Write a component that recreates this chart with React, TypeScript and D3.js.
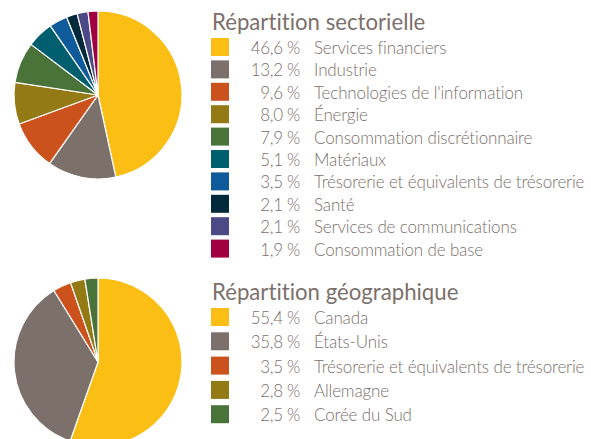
import React from "react";
import * as d3 from "d3";

const sectorLabels = [
  "Services financiers",
  "Industrie",
  "Technologies de l'information",
  "Énergie",
  "Consommation discrétionnaire",
  "Matériaux",
  "Trésorerie et équivalents de trésorerie",
  "Santé",
  "Services de communications",
  "Consommation de base",
];
const sectorValues = [46.6, 13.2, 9.6, 8.0, 7.9, 5.1, 3.5, 2.1, 2.1, 1.9];
const sectorColors = [
  "#FBBE14", "#7C706B", "#CC521D", "#947A14", "#4A733A",
  "#005F6E", "#0E5A9B", "#04293A", "#4C4A86", "#A0003F",
];

const geoLabels = ["Canada", "États-Unis", "Trésorerie et équivalents de trésorerie", "Allemagne", "Corée du Sud"];
const geoValues = [55.4, 35.8, 3.5, 2.8, 2.5];
const geoColors = ["#FBBE14", "#7C706B", "#CC521D", "#947A14", "#4A733A"];

const TEXT = "#7B706B";
const FONT = "Lato, 'Open Sans', sans-serif";

const fmt = (v: number) => v.toFixed(1).replace(".", ",") + " %";

function Pie({ cx, cy, r, values, colors }: { cx: number; cy: number; r: number; values: number[]; colors: string[] }) {
  const arcs = d3.pie<number>().sort(null).value((d) => d)(values);
  const arcGen = d3.arc<d3.PieArcDatum<number>>().innerRadius(0).outerRadius(r);
  return (
    <g transform={`translate(${cx},${cy})`}>
      {arcs.map((a, i) => (
        <path key={i} d={arcGen(a) || ""} fill={colors[i]} stroke="#fff" strokeWidth={1.2} strokeLinejoin="round" />
      ))}
    </g>
  );
}

function Legend({ x, titleY, rowY, step, title, labels, values, colors }: any) {
  return (
    <g fontFamily={FONT} fill={TEXT} style={{ fontVariantLigatures: "none" }}>
      <text x={x} y={titleY} fontSize={22.2} fontWeight={400}>{title}</text>
      {labels.map((l: string, i: number) => {
        const y = rowY + i * step;
        return (
          <g key={i}>
            <rect x={x - 1} y={y} width={18} height={18} fill={colors[i]} />
            <text x={300} y={y + 16} fontSize={17} fontWeight={300} textAnchor="end" letterSpacing={-0.3}>{fmt(values[i])}</text>
            <text x={314} y={y + 16} fontSize={17} fontWeight={300} letterSpacing={-0.15}>{l}</text>
          </g>
        );
      })}
    </g>
  );
}

export default function App() {
  return (
    <svg width={591} height={439} style={{ position: "absolute", left: 0, top: 0, background: "#fff" }}>
      <Pie cx={98} cy={95} r={84} values={sectorValues} colors={sectorColors} />
      <Legend x={212} titleY={30} rowY={38} step={22.4} title="Répartition sectorielle" labels={sectorLabels} values={sectorValues} colors={sectorColors} />
      <Pie cx={98} cy={362} r={84} values={geoValues} colors={geoColors} />
      <Legend x={212} titleY={300} rowY={308} step={24.3} title="Répartition géographique" labels={geoLabels} values={geoValues} colors={geoColors} />
    </svg>
  );
}
